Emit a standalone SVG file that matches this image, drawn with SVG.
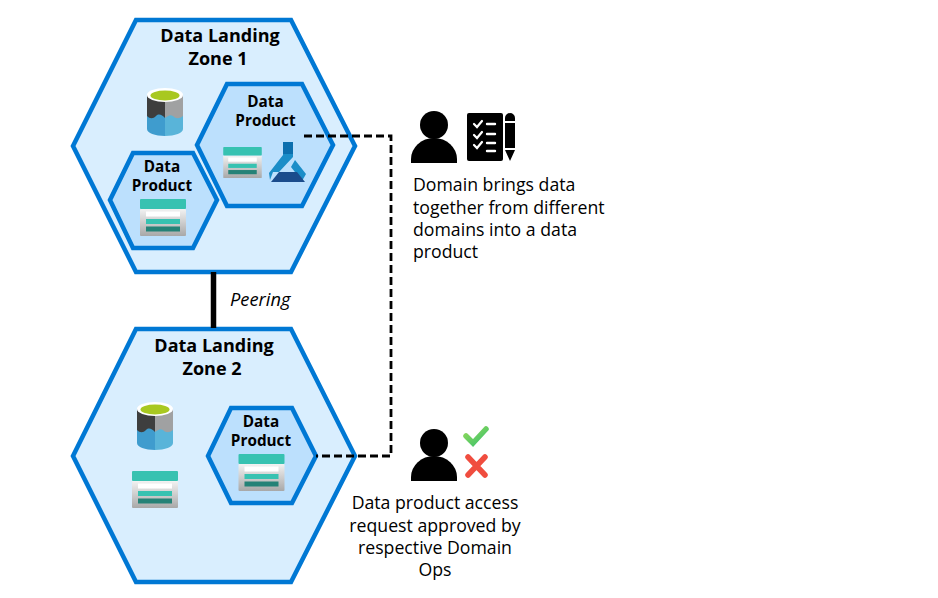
<svg xmlns="http://www.w3.org/2000/svg" width="938" height="598" viewBox="0 0 938 598">
<style>
text{font-family:"Open Sans","Noto Sans","Liberation Sans",sans-serif;fill:#000}
.zone{fill:#d9eefe;stroke:#0078d4;stroke-width:4.5}
.prod{fill:#bce0fd;stroke:#0078d4;stroke-width:4.5}
.zt{font-size:18px;font-weight:700;text-anchor:middle}
.pt{font-size:15.300px;font-weight:700;text-anchor:middle}
.lab{font-size:17.700px}
.dash{fill:none;stroke:#000;stroke-width:2.800;stroke-dasharray:8 4}
</style>
<defs>
<linearGradient id="g1" x1="0" y1="0" x2="0" y2="1"><stop offset="0" stop-color="#f2f2f2"/><stop offset="1" stop-color="#a8a8a8"/></linearGradient>
<linearGradient id="g2" x1="0" y1="0" x2="1" y2="1"><stop offset="0" stop-color="#8fd85a"/><stop offset="1" stop-color="#3fc36b"/></linearGradient>
<symbol id="table" viewBox="0 0 46 37" overflow="visible">
<rect x="0" y="10" width="46" height="27" rx="1" fill="url(#g1)"/>
<rect x="0" y="0" width="46" height="10" rx="1" fill="#37c2b1"/>
<rect x="6" y="12.500" width="34" height="5" fill="#fff"/>
<rect x="6" y="20" width="34" height="5" fill="#37c2b1"/>
<rect x="6" y="27.500" width="34" height="5" fill="#258277"/>
</symbol>
<symbol id="lake" viewBox="0 0 36 48" overflow="visible">
<path d="M0 7V41C0 45 8 48 18 48V7Z" fill="#3f9cce"/>
<path d="M36 7V41C36 45 28 48 18 48V7Z" fill="#59b4d9"/>
<path d="M0 7V28C3 31 6 31 9 28C12 25 15 27 18 30V7Z" fill="#3e3e3e"/>
<path d="M36 7V28C32 31 29 31 26 28C23 26 21 28 18 30V7Z" fill="#a0a1a2"/>
<ellipse cx="18" cy="7" rx="18" ry="7" fill="#fff"/>
<ellipse cx="18" cy="7.500" rx="14.500" ry="5" fill="#a8c820"/>
</symbol>
<g id="person"><circle cx="0" cy="0" r="14"/><path d="M-23 38V34A23 21 0 0 1 23 34V38Z"/></g>
</defs>

<g id="zone1">
<polygon class="zone" points="73,146 136,20 291,20 355,146 291,272 136,272"/>
<text class="zt" x="220" y="42">Data Landing</text>
<text class="zt" x="218" y="65">Zone 1</text>
<use href="#lake" x="147" y="88" width="36" height="48"/>
</g>
<g id="zone1-product-a">
<polygon class="prod" points="197,145 227,84 302,84 333,145 302,206 227,206"/>
<text class="pt" x="265.500" y="107">Data</text>
<text class="pt" x="265.500" y="126">Product</text>
<use href="#table" x="223" y="147" width="39" height="31"/>
<g id="ml-icon">
<path d="M283 142H293V157L279 172H273L270 180L269 173L283 155Z" fill="#1a8dc8"/>
<path d="M283 142H293V154H283Z" fill="#0c6fae"/>
<path d="M295 160L306 174L302 181L291 167Z" fill="#1a8dc8"/>
<path d="M279 172H297L305 182H271Z" fill="#1b4c8c"/>
</g>
</g>
<g id="zone1-product-b">
<polygon class="prod" points="110,200 133,153 193,153 217,200 193,248 133,248"/>
<text class="pt" x="162" y="171.500">Data</text>
<text class="pt" x="162" y="190.500">Product</text>
<use href="#table" x="140" y="199" width="46" height="37"/>
</g>

<g id="zone2">
<polygon class="zone" points="73,456 136,329 291,329 355,456 291,582 136,582"/>
<text class="zt" x="214" y="352">Data Landing</text>
<text class="zt" x="212" y="375">Zone 2</text>
<use href="#lake" x="137" y="402" width="36" height="48"/>
<use href="#table" x="132" y="471" width="46" height="37"/>
</g>
<g id="zone2-product">
<polygon class="prod" points="208,456 231,408 292,408 316,456 292,503 231,503"/>
<text class="pt" x="261" y="427">Data</text>
<text class="pt" x="261" y="446">Product</text>
<use href="#table" x="238" y="454" width="47" height="37"/>
</g>

<g id="connectors">
<line x1="213.500" y1="272" x2="213.500" y2="328" stroke="#000" stroke-width="5.500"/>
<path class="dash" d="M304 136H391V456H316"/>
</g>

<text id="peering" x="230" y="305.500" font-size="18.300px" font-style="italic">Peering</text>

<g id="domain-owner">
<use href="#person" x="434" y="125"/>
<rect x="467" y="113" width="36" height="48" rx="2"/>
<g fill="none" stroke="#fff" stroke-linecap="round">
<path stroke-width="2.200" d="M474 124l3 3 5-6M474 135l3 3 5-6M474 145l3 3 5-6"/>
<path stroke-width="2.400" d="M487 124H495M487 134H495M487 143H495M487 151H495"/>
</g>
<path d="M505 121V118A5 5 0 0 1 515 118V121ZM505 123H515V148H505ZM505 150H515L510 161Z"/>
<text class="lab" x="413" y="191">Domain brings data</text>
<text class="lab" x="413" y="214">together from different</text>
<text class="lab" x="413" y="236">domains into a data</text>
<text class="lab" x="413" y="258">product</text>
</g>

<g id="domain-ops">
<use href="#person" x="434" y="443"/>
<path d="M466 436L473 443L486 429" fill="none" stroke="url(#g2)" stroke-width="5.500" stroke-linecap="round"/>
<path d="M468 457L485 475M485 457L468 475" fill="none" stroke="#f04d3f" stroke-width="5.500" stroke-linecap="round"/>
<g class="lab" text-anchor="middle">
<text x="435" y="509">Data product access</text>
<text x="435" y="532">request approved by</text>
<text x="435" y="554">respective Domain</text>
<text x="435" y="576">Ops</text>
</g>
</g>
</svg>
